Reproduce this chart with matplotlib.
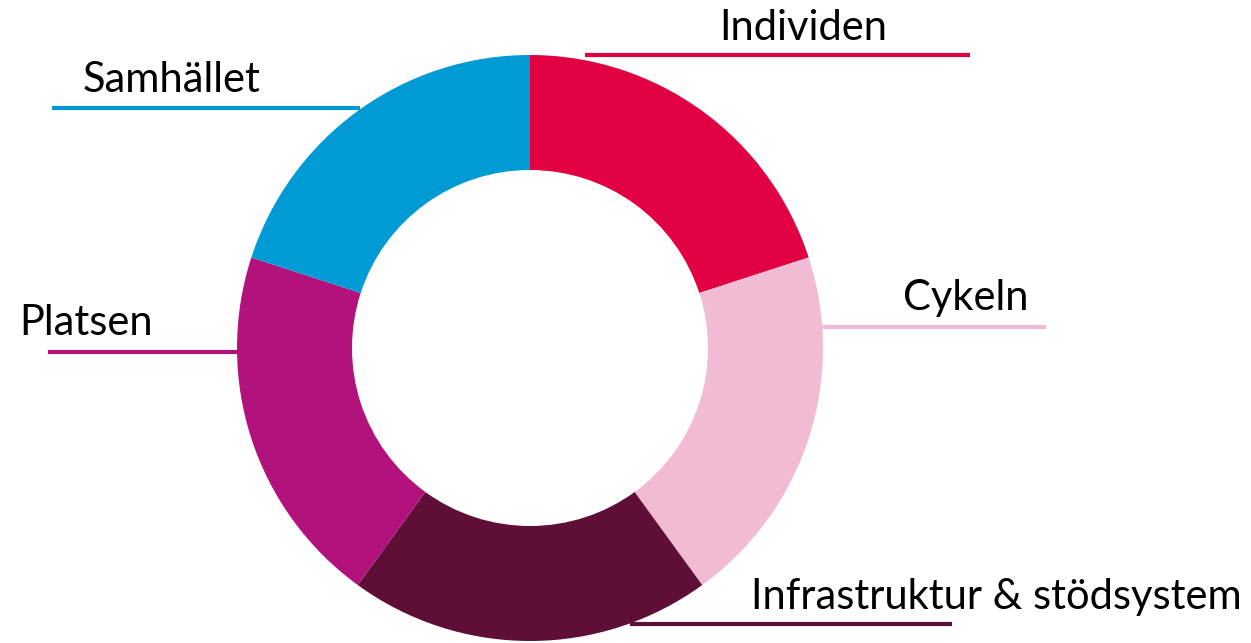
import matplotlib.pyplot as plt

labels = ['Individen', 'Cykeln', 'Infrastruktur & stödsystem', 'Platsen', 'Samhället']
shares = [1, 1, 1, 1, 1]
colors = ['#E10042', '#F2BBD4', '#5F0E35', '#B1127C', '#009AD4']

# label text anchor (pixels) and leader line span (pixels)
label_pos = [(803, 28), (966, 298), (996, 597), (86, 323), (172, 80)]
line_spans = [(585, 970, 55), (822, 1046, 327), (630, 952, 624), (48, 240, 352), (52, 360, 108)]

W, H = 1251, 643
fig = plt.figure(figsize=(W / 100, H / 100), dpi=100)
ax = fig.add_axes([0, 0, 1, 1])

ax.pie(shares, colors=colors, startangle=90, counterclock=False,
       center=(530, H - 348), radius=293,
       wedgeprops=dict(width=115, linewidth=0))

# leader lines and labels
for lab, col, (tx, ty), (x0, x1, ly) in zip(labels, colors, label_pos, line_spans):
    ax.plot([x0, x1], [H - ly, H - ly], color=col, lw=3, solid_capstyle='butt')
    ax.text(tx, H - ty, lab, ha='center', va='center', fontsize=30,
            family='Lato', color='black')

ax.set_xlim(0, W)
ax.set_ylim(0, H)
ax.set_aspect('equal')
ax.axis('off')

plt.savefig('out.png', dpi=100)
